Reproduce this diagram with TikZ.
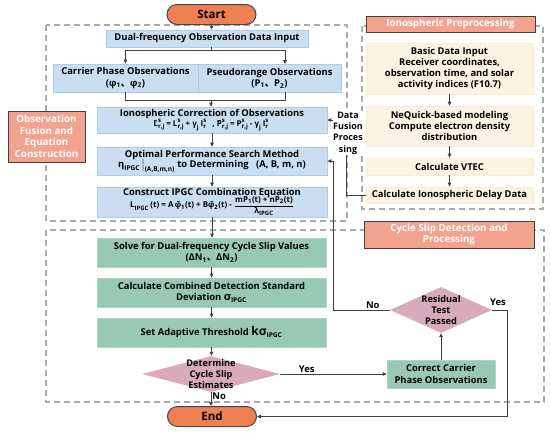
\documentclass[tikz,border=0pt]{standalone}
\usepackage{fontspec}
\usepackage{amsmath}
\setmainfont{Open Sans}
\newfontfamily\cjk{Noto Sans CJK SC}
\usetikzlibrary{shapes.geometric,arrows.meta,calc}
\definecolor{bluef}{RGB}{201,223,241}
\definecolor{blued}{RGB}{176,205,232}
\definecolor{greenf}{RGB}{152,201,181}
\definecolor{greend}{RGB}{170,212,195}
\definecolor{pinkf}{RGB}{216,170,187}
\definecolor{salmonf}{RGB}{242,162,142}
\definecolor{orangef}{RGB}{238,128,82}
\definecolor{ovald}{RGB}{60,72,90}
\definecolor{creamf}{RGB}{253,243,226}
\definecolor{creamd}{RGB}{250,236,212}
\definecolor{lined}{RGB}{64,64,64}
\definecolor{dashc}{RGB}{170,170,170}
\newcommand{\SSc}[3]{$\text{#1}^{\text{#2}}_{\text{#3}}\,$}
\begin{document}
\begin{tikzpicture}[x=1pt,y=-1pt,
  font=\bfseries\fontsize{9.4}{11.2}\selectfont,
  base/.style={line width=0.8pt, align=center, inner sep=1pt},
  blbox/.style={base, draw=blued, fill=bluef},
  grbox/.style={base, draw=greend, fill=greenf},
  crbox/.style={base, draw=creamd, fill=creamf, minimum width=167pt},
  ttl/.style={base, draw=lined, fill=salmonf, text=white, line width=1pt, font=\bfseries\fontsize{9.8}{11.5}\selectfont},
  oval/.style={draw=ovald, fill=orangef, line width=1pt, rounded corners=10pt,
    minimum width=89pt, minimum height=20pt, font=\bfseries\fontsize{11.5}{13}\selectfont},
  dia/.style={diamond, fill=pinkf, inner sep=0pt},
  dbox/.style={draw=dashc, line width=1.2pt, dash pattern=on 6pt off 4pt},
  ln/.style={draw=lined, line width=0.9pt},
  arr/.style={ln, -{Triangle[length=4pt,width=3.6pt]}},
  lbl/.style={inner sep=1pt}
]
\useasboundingbox (0,0) rectangle (550,432);
% dashed frames
\draw[dbox] (46,25) rectangle (347,221);
\draw[dbox] (46,230) rectangle (544,402);
\draw[dbox] (362,26) rectangle (543,209);

% start / end
\node[oval] (start) at (211.5,14.5) {Start};
\node[oval] (end) at (212,416.5) {End};

% blue boxes
\node[blbox, minimum width=202pt, minimum height=17pt] (din) at (207,38.5) {Dual-frequency Observation Data Input};
\node[blbox, minimum width=145pt, minimum height=28pt] (carrier) at (125.5,78) {Carrier Phase Observations\\(φ\textsubscript{1}{\cjk 、}φ\textsubscript{2})};
\node[blbox, minimum width=143pt, minimum height=28pt] (pseudo) at (269.5,78) {Pseudorange Observations\\(P\textsubscript{1}{\cjk 、}P\textsubscript{2})};
\node[blbox, minimum width=230pt, minimum height=26pt] (iono) at (212,120) {Ionospheric Correction of Observations\\[-1.5pt]
  {\fontsize{8}{9}\selectfont \SSc{\~{L}}{s}{r,j}= \SSc{L}{s}{r,j}+ \SSc{γ}{}{j}\SSc{I}{s}{r}\ \ , \SSc{\~{P}}{s}{r,j}= \SSc{P}{s}{r,j}- \SSc{γ}{}{j}\SSc{I}{s}{r}}};
\node[blbox, minimum width=230pt, minimum height=28pt] (opt) at (212,161) {Optimal Performance Search Method\\[-1pt]
  \SSc{η}{}{IPGC}$\big|_{\text{(A,B,m,n)}}$\ to Determining\ \ \ (A, B, m, n)};
\node[blbox, minimum width=230pt, minimum height=30pt] (ipgc) at (212,202) {Construct IPGC Combination Equation\\[-3pt]
  {\fontsize{8}{9}\selectfont \SSc{L}{}{IPGC}(t) = A\,\~{φ}\textsubscript{1}(t) + B\~{φ}\textsubscript{2}(t) - $\dfrac{\text{m\~{P}\textsubscript{1}(t) + n\~{P}\textsubscript{2}(t)}}{\text{λ\textsubscript{IPGC}}}$}};

% title boxes
\node[ttl, minimum width=77pt, minimum height=51pt] (ofe) at (46.5,136.5) {Observation\\Fusion and\\Equation\\Construction};
\node[ttl, minimum width=169pt, minimum height=16pt] (ipre) at (450.5,24) {Ionospheric Preprocessing};
\node[ttl, minimum width=170pt, minimum height=27pt] (csd) at (449,234.5) {Cycle Slip Detection and\\Processing};

% cream boxes
\node[crbox, minimum height=51pt] (basic) at (449.5,68.5) {Basic Data Input\\Receiver coordinates,\\observation time, and solar\\activity indices (F10.7)};
\node[crbox, minimum height=40pt] (neq) at (449.5,126) {NeQuick-based modeling\\Compute electron density\\distribution};
\node[crbox, minimum height=17pt] (vtec) at (449.5,166.5) {Calculate VTEC};
\node[crbox, minimum height=16pt] (delay) at (449.5,195) {Calculate Ionospheric Delay Data};

% green boxes
\node[grbox, minimum width=229pt, minimum height=29pt] (solve) at (211.5,252.5) {Solve for Dual-frequency Cycle Slip Values\\(ΔN\textsubscript{1}{\cjk 、}ΔN\textsubscript{2})};
\node[grbox, minimum width=229pt, minimum height=29pt] (calc) at (211.5,292.5) {Calculate Combined Detection Standard\\Deviation {\fontsize{11}{11}\selectfont σ}\textsubscript{IPGC}};
\node[grbox, minimum width=229pt, minimum height=29pt] (thr) at (211.5,332.5) {Set Adaptive Threshold {\fontsize{12}{12}\selectfont kσ}\textsubscript{IPGC}};
\node[grbox, minimum width=108pt, minimum height=28pt] (corr) at (441,374) {Correct Carrier\\Phase Observations};

% diamonds
\node[dia, minimum width=138pt, minimum height=36pt] (det) at (211,374) {};
\node[lbl, align=center, font=\bfseries\fontsize{9.2}{11}\selectfont] (dett) at (det.center) {Determine\\Cycle Slip\\Estimates};
\node[dia, minimum width=102pt, minimum height=46pt] (res) at (441,310) {};
\node[lbl, align=center, font=\bfseries\fontsize{9.2}{11}\selectfont] (rest) at (res.center) {Residual\\Test\\Passed};

% connectors
\coordinate (j1) at (211,50);
\coordinate (pn) at (285,64);
\coordinate (j2) at (211,100);
\coordinate (pb) at (285,92);
\coordinate (nx) at (333,0);
\coordinate (yx) at (507,0);
\coordinate (dx) at (346,0);

\draw[arr] (start.south) -- (start.south |- din.north);
\draw[ln] (j1 |- din.south) -- (j1);
\draw[arr] (j1) -| (carrier.north);
\draw[arr] (j1) -| (pn);
\draw[ln] (carrier.south) -- (carrier.south |- j2) -- (j2 -| pb) -- (pb);
\draw[arr] (j2) -- (j2 |- iono.north);
\draw[arr] (iono.south) -- (opt.north);
\draw[arr] (opt.south) -- (ipgc.north);
\draw[arr] (ipgc.south) -- (ipgc.south |- solve.north);
\draw[arr] (solve.south) -- (calc.north);
\draw[arr] (calc.south) -- (thr.north);
\draw[arr] (thr.south) -- (thr.south |- det.north);
\draw[arr] (det.south) -- node[lbl, right, pos=0.3] (no1) {No} (det.south |- end.north);
\draw[arr] (det.east) -- node[lbl, above, pos=0.25] (yes1) {Yes} (corr.west);
\draw[arr] (corr.north) -- (res.south);
\draw[arr] (res.west) -- node[lbl, above, pos=0.3] (no2) {No} (res.west -| nx) |- (opt.east);
\draw[arr] (res.east) -- (res.east -| yx) |- (end.east);
\node[lbl] (yes2) at (498,302) {Yes};
\draw[arr] (basic.south) -- (neq.north);
\draw[arr] (neq.south) -- (vtec.north);
\draw[arr] (vtec.south) -- (delay.north);
\draw[arr] (delay.west) -- (delay.west -| dx) |- (iono.east);
\node[fill=white, inner sep=0.5pt, align=center, font=\bfseries\fontsize{9}{11.3}\selectfont] (dfp) at (348,133) {Data\\Fusion\\Proces\\sing};
\end{tikzpicture}
\end{document}
